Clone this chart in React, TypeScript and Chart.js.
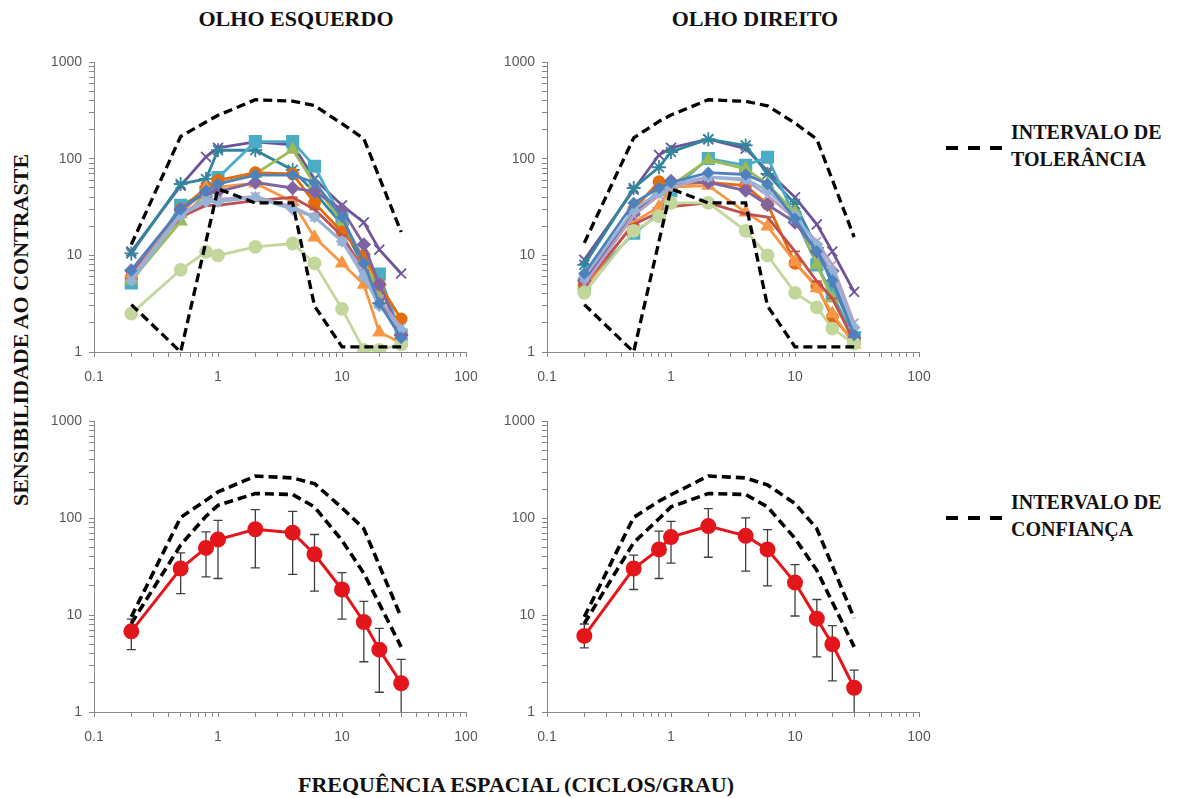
import React, { useEffect, useRef } from "react";
import { Chart, registerables } from "chart.js";

Chart.register(...registerables);

// Spatial frequencies (cycles/degree) at which contrast sensitivity was measured
const FREQ = [0.2, 0.5, 0.8, 1, 2, 4, 6, 10, 15, 20, 30];

// Individual subjects – left eye (OLHO ESQUERDO)
const OE_SUBJ_01 = [11, 53, 105, 130, 150, 140, 62, 33, 22, 11.5, 6.5];
const OE_SUBJ_02 = [10.5, 55, 62, 123, 123, 77, 45, 21, 7.6, 3.2, 1.5];
const OE_SUBJ_03 = [5.2, 33, 45, 64, 151, 151, 84, 24, 9, 6.4, 1.5];
const OE_SUBJ_04 = [5.5, 22.6, 45, 55, 70, 125, 55, 22, 9, 4, 1.3];
const OE_SUBJ_05 = [6, 30, 50, 60, 72, 70, 35, 17.5, 10, 5, 2.2];
const OE_SUBJ_06 = [6.5, 27, 50, 51, 56, 36, 15.4, 8.3, 5, 1.6, 1.25];
const OE_SUBJ_07 = [7, 30, 45, 46, 57, 50, 46, 30, 13, 5, 1.5];
const OE_SUBJ_08 = [6.5, 25, 33, 33, 37, 40, 30, 16, 7, 3.5, 1.5];
const OE_SUBJ_09 = [6, 27, 38, 38, 41, 32, 25, 14, 7, 3.5, 1.8];
const OE_SUBJ_10 = [5.5, 26, 36, 36, 40, 30, 25, 14, 6, 3, 1.7];
const OE_SUBJ_11 = [2.5, 7.1, 10.9, 10, 12.3, 13.3, 8.3, 2.8, 1.05, 1.05, 1.2];
const OE_SUBJ_12 = [7, 30, 47, 55, 68, 68, 57, 25, 8.3, 3.2, 1.4];

// Individual subjects – right eye (OLHO DIREITO)
const OD_SUBJ_01 = [9, 48, 110, 130, 160, 128, 75, 40, 21, 11, 4.2];
const OD_SUBJ_02 = [8, 50, 82, 118, 160, 138, 70, 34, 12, 5, 1.6];
const OD_SUBJ_03 = [5, 17, 27, 47, 101, 86, 104, 25, 8, 4, 1.4];
const OD_SUBJ_04 = [5, 28, 45, 53, 98, 79, 55, 28, 8, 3.6, 1.3];
const OD_SUBJ_05 = [5, 30, 58, 55, 57, 53, 34, 8.3, 4.8, 2.3, 1.3];
const OD_SUBJ_06 = [4.5, 22, 32, 51, 53, 28, 20, 8.6, 4.6, 2.5, 1.2];
const OD_SUBJ_07 = [5.5, 27, 47, 59, 57, 47, 33.5, 22, 11, 6.9, 1.4];
const OD_SUBJ_08 = [5, 21, 28, 32, 35, 27, 25, 11, 5.4, 3.6, 1.3];
const OD_SUBJ_09 = [5, 26, 42, 50, 65, 60, 42, 24, 14, 8, 2];
const OD_SUBJ_10 = [6, 30, 45, 55, 65, 62, 47, 26, 13, 6.7, 1.8];
const OD_SUBJ_11 = [4.1, 18, 25.5, 35, 35, 18, 10, 4.1, 2.9, 1.75, 1.22];
const OD_SUBJ_12 = [6.5, 35, 50, 57, 72, 69, 55, 24, 11, 5.5, 1.5];

// Tolerance interval limits
const TOL_UPPER_FREQ = [0.2, 0.5, 0.8, 1, 2, 4, 6, 10, 15, 30];
const TOL_UPPER_OE = [13, 171, 241, 283, 410, 397, 358, 232, 162, 17.5];
const TOL_UPPER_OD = [13.5, 165, 245, 285, 410, 395, 355, 235, 160, 15.5];
const TOL_LOWER_FREQ = [0.2, 0.5, 1, 2, 4, 6, 10, 30];
const TOL_LOWER_OE = [3.1, 1.0, 49, 35, 35, 3, 1.13, 1.13];
const TOL_LOWER_OD = [3.1, 1.0, 49, 35, 35, 3, 1.13, 1.13];

// Group mean with error bars
const MEAN_OE = [6.8, 30.3, 49.4, 60.3, 77, 71, 42.5, 18.4, 8.5, 4.4, 1.98];
const MEAN_OE_HIGH = [9.1, 43.9, 72.2, 95.3, 123, 118, 68, 27.5, 13.9, 7.3, 3.5];
const MEAN_OE_LOW = [4.4, 16.7, 24.8, 23.9, 30.7, 26.3, 17.7, 9.1, 3.3, 1.6, 0.3];
const MEAN_OD = [6.1, 30.3, 47.7, 64, 83, 65.8, 47.7, 21.7, 9.2, 5.0, 1.78];
const MEAN_OD_HIGH = [8.1, 41.6, 73.5, 93, 126, 100.7, 76.4, 33.3, 14.5, 7.8, 2.7];
const MEAN_OD_LOW = [4.6, 18.4, 23.9, 34.4, 39.6, 28.4, 20, 9.8, 3.7, 2.1, 0.3];

// Confidence interval limits
const CONF_FREQ = [0.2, 0.5, 0.8, 1, 2, 4, 6, 10, 15, 30];
const CONF_UPPER_OE = [9.6, 102, 153, 187, 273, 261, 228, 128, 78, 9.5];
const CONF_LOWER_OE = [8.2, 53, 105, 136, 180, 176, 131, 59, 27, 4.7];
const CONF_UPPER_OD = [9.6, 102, 150, 175, 273, 261, 221, 142, 78, 9.3];
const CONF_LOWER_OD = [8.2, 56, 99, 131, 180, 176, 131, 62, 29, 4.7];

// Axis tick positions: every integer mantissa of each decade
const X_TICKS = [
  0.1, 0.2, 0.3, 0.4, 0.5, 0.6, 0.7, 0.8, 0.9,
  1, 2, 3, 4, 5, 6, 7, 8, 9,
  10, 20, 30, 40, 50, 60, 70, 80, 90, 100,
];
const Y_TICKS = [
  1, 2, 3, 4, 5, 6, 7, 8, 9,
  10, 20, 30, 40, 50, 60, 70, 80, 90,
  100, 200, 300, 400, 500, 600, 700, 800, 900, 1000,
];

const SUBJECT_STYLES = [
  { color: "#6F539A", point: "crossRot", r: 7 },
  { color: "#31859C", point: "star", r: 7 },
  { color: "#4BACC6", point: "rect", r: 8 },
  { color: "#9BBB59", point: "triangle", r: 6.5 },
  { color: "#E46C0A", point: "circle", r: 5.5 },
  { color: "#F79646", point: "triangle", r: 6.5 },
  { color: "#8064A2", point: "rectRot", r: 6 },
  { color: "#C0504D", point: "line", r: 5 },
  { color: "#B3A2C7", point: "crossRot", r: 6 },
  { color: "#95B3D7", point: "rectRot", r: 5 },
  { color: "#C3D69B", point: "circle", r: 6 },
  { color: "#4F81BD", point: "rectRot", r: 5 },
];

const OE_SUBJECTS = [
  OE_SUBJ_01, OE_SUBJ_02, OE_SUBJ_03, OE_SUBJ_04, OE_SUBJ_05, OE_SUBJ_06,
  OE_SUBJ_07, OE_SUBJ_08, OE_SUBJ_09, OE_SUBJ_10, OE_SUBJ_11, OE_SUBJ_12,
];
const OD_SUBJECTS = [
  OD_SUBJ_01, OD_SUBJ_02, OD_SUBJ_03, OD_SUBJ_04, OD_SUBJ_05, OD_SUBJ_06,
  OD_SUBJ_07, OD_SUBJ_08, OD_SUBJ_09, OD_SUBJ_10, OD_SUBJ_11, OD_SUBJ_12,
];

const Y_AXIS_W = 60;
const X_AXIS_H = 40;
const PAD_T = 15;
const PAD_R = 25;
const AXIS_GREY = "#868686";
const SERIF = '"Liberation Serif", "Times New Roman", serif';

type Box = { left: number; top: number; width: number; height: number };

const pts = (xs: number[], ys: number[]) => xs.map((x, i) => ({ x, y: ys[i] }));

const isDecade = (v: number) => Math.abs(Math.log10(v) - Math.round(Math.log10(v))) < 1e-6;

function logAxis(min: number, max: number, ticks: number[], axis: "x" | "y") {
  return {
    type: "logarithmic",
    min,
    max,
    afterBuildTicks: (scale: any) => {
      scale.ticks = ticks.map((value) => ({ value }));
    },
    afterFit: (scale: any) => {
      if (axis === "x") scale.height = X_AXIS_H;
      else scale.width = Y_AXIS_W;
    },
    grid: { drawOnChartArea: false, drawTicks: true, tickLength: 5, color: AXIS_GREY, lineWidth: 1 },
    border: { color: AXIS_GREY, width: 1 },
    ticks: {
      autoSkip: false,
      maxRotation: 0,
      padding: axis === "x" ? 12 : 7,
      color: "#595959",
      font: { family: '"Liberation Sans", Arial, sans-serif', size: 14 },
      callback: (v: any) => (isDecade(Number(v)) ? String(Number(v)) : ""),
    },
  };
}

// Vertical error bars taken from errLow / errHigh on a dataset
const errorBarPlugin = {
  id: "errorBars",
  beforeDatasetsDraw(chart: any) {
    const { ctx, chartArea, scales } = chart;
    ctx.save();
    ctx.beginPath();
    ctx.rect(chartArea.left, chartArea.top, chartArea.right - chartArea.left, chartArea.bottom - chartArea.top);
    ctx.clip();
    chart.data.datasets.forEach((ds: any) => {
      if (!ds.errLow) return;
      ds.data.forEach((p: any, i: number) => {
        const x = scales.x.getPixelForValue(p.x);
        const yHi = scales.y.getPixelForValue(ds.errHigh[i]);
        const yLo = scales.y.getPixelForValue(ds.errLow[i]);
        ctx.strokeStyle = "#3f3f3f";
        ctx.lineWidth = 1.3;
        ctx.beginPath();
        ctx.moveTo(x, yHi);
        ctx.lineTo(x, yLo);
        ctx.moveTo(x - 4.5, yHi);
        ctx.lineTo(x + 4.5, yHi);
        ctx.moveTo(x - 4.5, yLo);
        ctx.lineTo(x + 4.5, yLo);
        ctx.stroke();
      });
    });
    ctx.restore();
  },
};

function dashed(xs: number[], ys: number[], width: number) {
  return {
    data: pts(xs, ys),
    borderColor: "#000",
    borderWidth: width,
    borderDash: [9, 5],
    pointRadius: 0,
    tension: 0,
    order: 0,
  };
}

function subjectDatasets(series: number[][]) {
  return series.map((ys, i) => {
    const s = SUBJECT_STYLES[i];
    return {
      data: pts(FREQ, ys),
      borderColor: s.color,
      backgroundColor: s.color,
      borderWidth: 2.8,
      pointStyle: s.point,
      pointRadius: s.r,
      pointBackgroundColor: s.color,
      pointBorderColor: s.color,
      pointBorderWidth: 1.8,
      tension: 0,
      order: 100 - i,
    };
  });
}

function meanDatasets(mean: number[], low: number[], high: number[]) {
  return [
    {
      data: pts(FREQ, mean),
      errLow: low,
      errHigh: high,
      borderColor: "#E3161C",
      backgroundColor: "#E3161C",
      borderWidth: 3,
      pointRadius: 6.5,
      pointBackgroundColor: "#E3161C",
      pointBorderColor: "#E3161C",
      tension: 0,
      order: 5,
    },
  ];
}

function LogPanel({ box, build }: { box: Box; build: () => any[] }) {
  const ref = useRef<HTMLCanvasElement>(null);
  useEffect(() => {
    const chart = new Chart(ref.current as HTMLCanvasElement, {
      type: "line",
      data: { datasets: build() as any },
      options: {
        animation: false,
        responsive: false,
        maintainAspectRatio: false,
        layout: { padding: { left: 0, top: PAD_T, right: PAD_R, bottom: 0 } },
        plugins: { legend: { display: false }, tooltip: { enabled: false } },
        scales: {
          x: logAxis(0.1, 100, X_TICKS, "x") as any,
          y: logAxis(1, 1000, Y_TICKS, "y") as any,
        },
      },
      plugins: [errorBarPlugin as any],
    });
    return () => chart.destroy();
  }, []);
  const w = box.width + Y_AXIS_W + PAD_R;
  const h = box.height + PAD_T + X_AXIS_H;
  return (
    <canvas
      ref={ref}
      width={w}
      height={h}
      style={{ position: "absolute", left: box.left - Y_AXIS_W, top: box.top - PAD_T, width: w, height: h }}
    />
  );
}

function Text({ x, y, size, children, rotate }: { x: number; y: number; size: number; children: any; rotate?: boolean }) {
  return (
    <div
      style={{
        position: "absolute",
        left: x,
        top: y,
        transform: `translate(-50%, -50%)${rotate ? " rotate(-90deg)" : ""}`,
        fontFamily: SERIF,
        fontWeight: "bold",
        fontSize: size,
        whiteSpace: "nowrap",
        color: "#111",
        lineHeight: 1,
      }}
    >
      {children}
    </div>
  );
}

function LegendEntry({ top, line1, line2 }: { top: number; line1: string; line2: string }) {
  return (
    <>
      <div
        style={{
          position: "absolute",
          left: 946,
          top: top - 2,
          width: 56,
          height: 4,
          background: "repeating-linear-gradient(to right, #000 0 12px, transparent 12px 22px)",
        }}
      />
      <div
        style={{
          position: "absolute",
          left: 1011,
          top: top - 29,
          fontFamily: SERIF,
          fontWeight: "bold",
          fontSize: 20,
          lineHeight: "27px",
          color: "#111",
          whiteSpace: "nowrap",
        }}
      >
        <div>{line1}</div>
        <div>{line2}</div>
      </div>
    </>
  );
}

export default function App() {
  return (
    <div style={{ position: "absolute", left: 0, top: 0, width: 1185, height: 798, background: "#fff", overflow: "hidden" }}>
      <Text x={296} y={19} size={22}>OLHO ESQUERDO</Text>
      <Text x={755} y={19} size={22}>OLHO DIREITO</Text>
      <Text x={21} y={330} size={22} rotate>SENSIBILIDADE AO CONTRASTE</Text>
      <Text x={516} y={785} size={22}>FREQUÊNCIA ESPACIAL (CICLOS/GRAU)</Text>

      <LogPanel
        box={{ left: 94, top: 62, width: 372, height: 290 }}
        build={() => [
          dashed(TOL_UPPER_FREQ, TOL_UPPER_OE, 3.3),
          dashed(TOL_LOWER_FREQ, TOL_LOWER_OE, 3.3),
          ...subjectDatasets(OE_SUBJECTS),
        ]}
      />
      <LogPanel
        box={{ left: 547, top: 62, width: 372, height: 290 }}
        build={() => [
          dashed(TOL_UPPER_FREQ, TOL_UPPER_OD, 3.3),
          dashed(TOL_LOWER_FREQ, TOL_LOWER_OD, 3.3),
          ...subjectDatasets(OD_SUBJECTS),
        ]}
      />
      <LogPanel
        box={{ left: 94, top: 421, width: 372, height: 291 }}
        build={() => [
          dashed(CONF_FREQ, CONF_UPPER_OE, 3.6),
          dashed(CONF_FREQ, CONF_LOWER_OE, 3.6),
          ...meanDatasets(MEAN_OE, MEAN_OE_LOW, MEAN_OE_HIGH),
        ]}
      />
      <LogPanel
        box={{ left: 547, top: 421, width: 372, height: 291 }}
        build={() => [
          dashed(CONF_FREQ, CONF_UPPER_OD, 3.6),
          dashed(CONF_FREQ, CONF_LOWER_OD, 3.6),
          ...meanDatasets(MEAN_OD, MEAN_OD_LOW, MEAN_OD_HIGH),
        ]}
      />

      <LegendEntry top={148} line1="INTERVALO DE" line2="TOLERÂNCIA" />
      <LegendEntry top={518} line1="INTERVALO DE" line2="CONFIANÇA" />
    </div>
  );
}
